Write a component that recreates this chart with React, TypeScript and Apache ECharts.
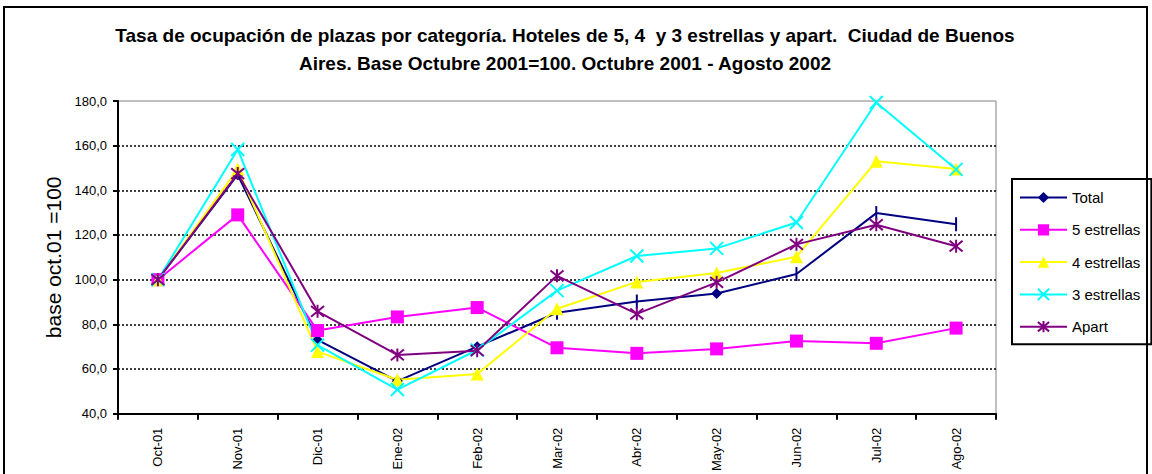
import React, { useEffect, useRef } from "react";
import * as echarts from "echarts";

const categories = ["Oct-01", "Nov-01", "Dic-01", "Ene-02", "Feb-02", "Mar-02", "Abr-02", "May-02", "Jun-02", "Jul-02", "Ago-02"];
const total = [100, 147, 73, 54.6, 70, 85.2, 90.2, 93.8, 102.5, 129.8, 124.8];
const cinco = [100, 129, 77.2, 83.3, 87.5, 69.5, 67, 69, 72.5, 71.5, 78.3];
const cuatro = [100, 149.5, 67.8, 55.2, 57.8, 87, 99, 103, 110.3, 153, 149.5];
const tres = [100, 158.3, 70.7, 50.8, 68.5, 95.1, 110.6, 114, 125.6, 179.3, 149.4];
const apart = [100, 147.5, 85.8, 66.3, 68.2, 101.7, 84.7, 98.8, 115.8, 124.6, 115];
// Total marker style per point (Excel rendered some as vertical bars)
const totalBarMarker = [false, false, false, false, false, true, true, false, true, true, true];

const FONT = "'Liberation Sans', Arial, sans-serif";
const X_PATH = "path://M0,0L10,10M10,0L0,10";
const STAR_PATH = "path://M0,0L10,10M10,0L0,10M5,-1L5,11";

export default function App() {
  const ref = useRef<HTMLDivElement>(null);
  useEffect(() => {
    const chart = echarts.init(ref.current!, null, { renderer: "svg" });
    chart.setOption({
      animation: false,
      backgroundColor: "#ffffff",
      textStyle: { fontFamily: FONT },
      title: {
        text: "Tasa de ocupación de plazas por categoría. Hoteles de 5, 4  y 3 estrellas y apart.  Ciudad de Buenos\nAires. Base Octubre 2001=100. Octubre 2001 - Agosto 2002",
        left: 560,
        textAlign: "center",
        top: 17,
        textStyle: { fontFamily: FONT, fontSize: 19, fontWeight: "bold", color: "#000", lineHeight: 27.5 },
      },
      graphic: [
        {
          type: "rect",
          shape: { x: 4, y: 7, width: 1143, height: 520 },
          style: { fill: "none", stroke: "#000", lineWidth: 2 },
          silent: true,
          z: 100,
        },
      ],
      legend: {
        orient: "vertical",
        left: 1012,
        top: 179,
        padding: [11, 11, 10, 7],
        itemWidth: 47,
        itemHeight: 14,
        itemGap: 17.3,
        borderColor: "#000",
        borderWidth: 2,
        textStyle: { fontFamily: FONT, fontSize: 15, color: "#000", lineHeight: 14 },
        data: ["Total", "5 estrellas", "4 estrellas", "3 estrellas", "Apart"],
      },
      grid: {
        left: 118,
        top: 101,
        width: 878,
        height: 316,
        show: true,
        borderColor: "#808080",
        borderWidth: 1,
        containLabel: false,
      },
      xAxis: {
        type: "category",
        data: categories,
        boundaryGap: true,
        axisLine: { lineStyle: { color: "#000", width: 2 } },
        axisTick: { show: true, length: 6, lineStyle: { color: "#000", width: 2 } },
        axisLabel: { rotate: 90, fontSize: 13, color: "#000", margin: 14, fontFamily: FONT, interval: 0 },
        splitLine: { show: false },
      },
      yAxis: {
        type: "value",
        min: 40,
        max: 180,
        interval: 20,
        name: "base oct.01 =100",
        nameLocation: "middle",
        nameGap: 53,
        nameRotate: 90,
        nameTextStyle: { fontSize: 21, color: "#000", fontFamily: FONT },
        axisLine: { show: true, lineStyle: { color: "#000", width: 2 } },
        axisTick: { show: true, length: 5, lineStyle: { color: "#000", width: 2 } },
        axisLabel: {
          fontSize: 13,
          color: "#000",
          margin: 11,
          fontFamily: FONT,
          formatter: (v: number) => v.toFixed(1).replace(".", ","),
        },
        splitLine: {
          show: true,
          showMinLine: false,
          showMaxLine: false,
          lineStyle: { color: "#000", type: [2, 2], width: 1.5 },
        },
      },
      series: [
        {
          name: "Total",
          type: "line",
          data: total.map((v, i) =>
            totalBarMarker[i]
              ? { value: v, symbol: "rect", symbolSize: [2, 14] }
              : { value: v }
          ),
          symbol: "diamond",
          symbolSize: 11,
          color: "#000080",
          lineStyle: { color: "#000080", width: 2 },
          itemStyle: { color: "#000080" },
        },
        {
          name: "5 estrellas",
          type: "line",
          data: cinco,
          symbol: "rect",
          symbolSize: 13,
          color: "#FF00FF",
          lineStyle: { color: "#FF00FF", width: 2 },
          itemStyle: { color: "#FF00FF" },
        },
        {
          name: "4 estrellas",
          type: "line",
          data: cuatro,
          symbol: "triangle",
          symbolSize: 13,
          color: "#FFFF00",
          lineStyle: { color: "#FFFF00", width: 2 },
          itemStyle: { color: "#FFFF00" },
        },
        {
          name: "3 estrellas",
          type: "line",
          data: tres,
          symbol: X_PATH,
          symbolSize: 13,
          color: "#00FFFF",
          lineStyle: { color: "#00FFFF", width: 2 },
          itemStyle: { color: "#00FFFF", borderColor: "#00FFFF", borderWidth: 2 },
        },
        {
          name: "Apart",
          type: "line",
          data: apart,
          symbol: STAR_PATH,
          symbolSize: 13,
          color: "#800080",
          lineStyle: { color: "#800080", width: 2 },
          itemStyle: { color: "#800080", borderColor: "#800080", borderWidth: 2 },
        },
      ],
    });
    return () => chart.dispose();
  }, []);
  return (
    <div
      ref={ref}
      style={{ position: "fixed", left: 0, top: 0, width: 1152, height: 474, background: "#fff" }}
    />
  );
}
